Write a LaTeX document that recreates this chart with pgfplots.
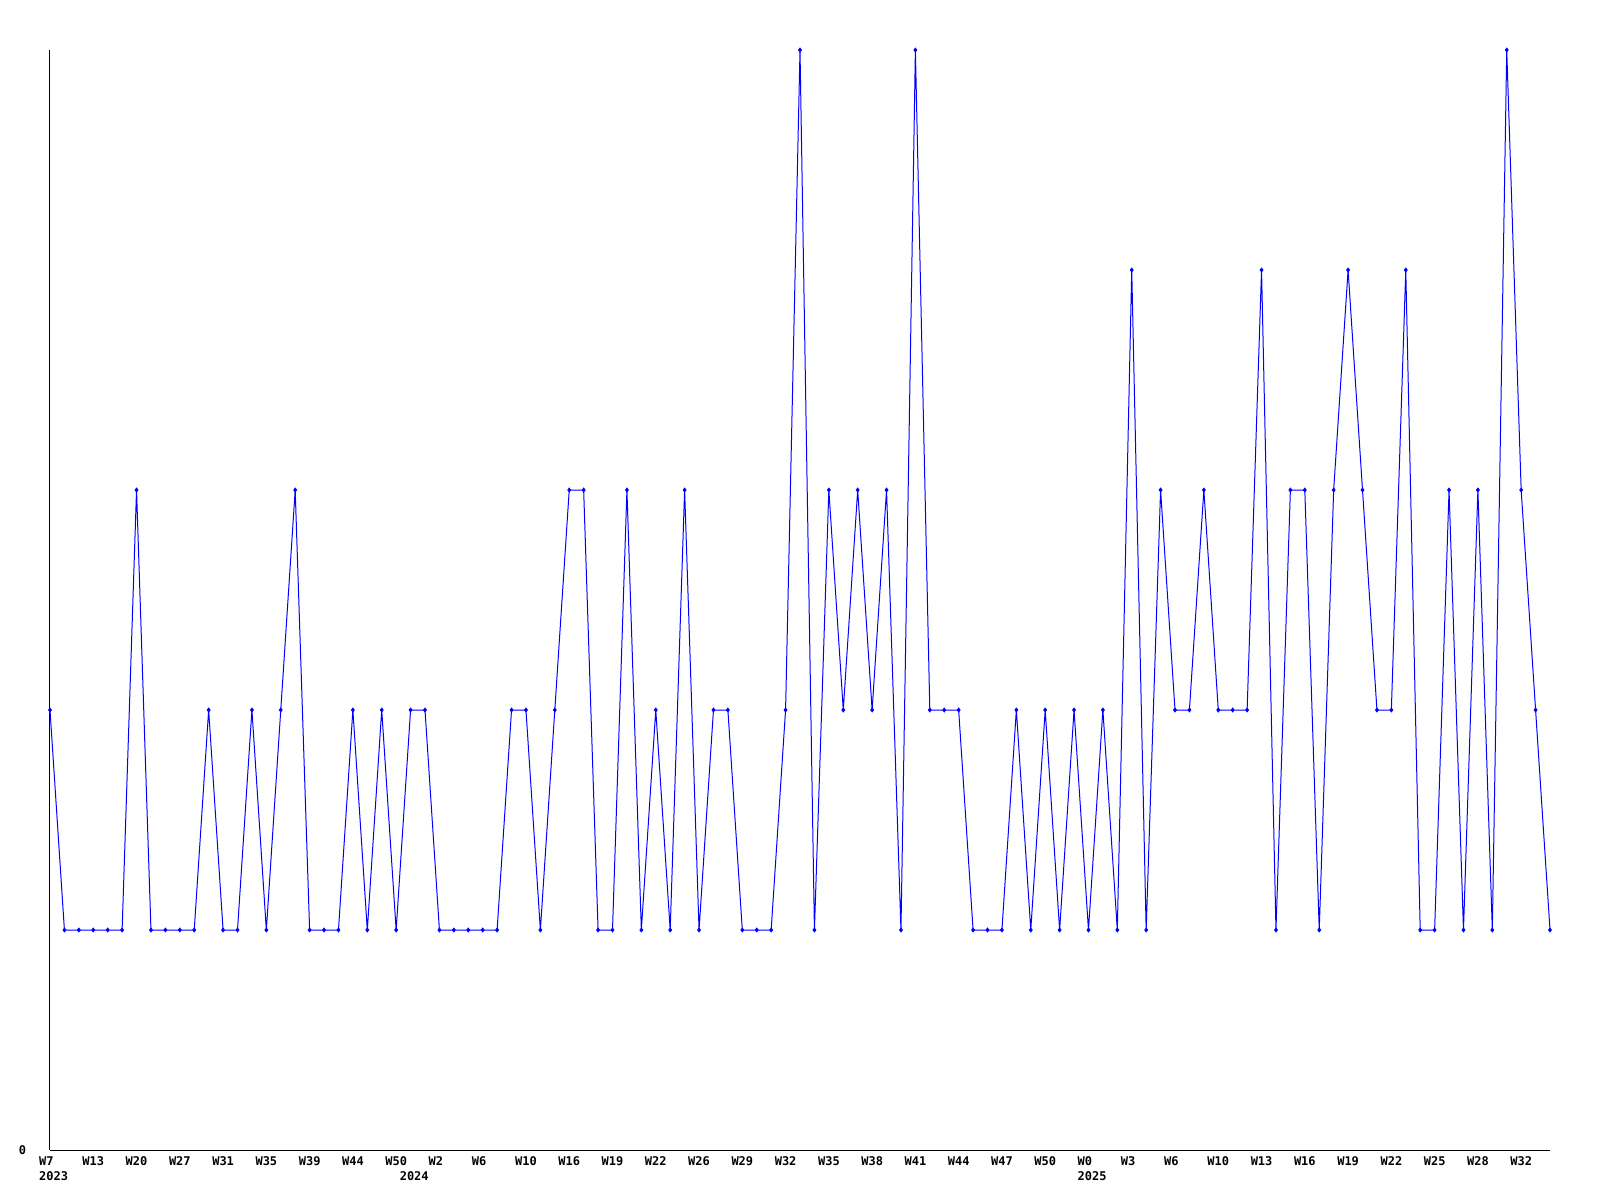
\documentclass[border=0pt]{standalone}
\usepackage{fontspec}
\setmonofont{DejaVu Sans Mono}
\usepackage{pgfplots}
\pgfplotsset{compat=1.18}
\usepackage{pgfplotstable}
\pgfplotstableread{
x y
0 2
1 1
2 1
3 1
4 1
5 1
6 3
7 1
8 1
9 1
10 1
11 2
12 1
13 1
14 2
15 1
16 2
17 3
18 1
19 1
20 1
21 2
22 1
23 2
24 1
25 2
26 2
27 1
28 1
29 1
30 1
31 1
32 2
33 2
34 1
35 2
36 3
37 3
38 1
39 1
40 3
41 1
42 2
43 1
44 3
45 1
46 2
47 2
48 1
49 1
50 1
51 2
52 5
53 1
54 3
55 2
56 3
57 2
58 3
59 1
60 5
61 2
62 2
63 2
64 1
65 1
66 1
67 2
68 1
69 2
70 1
71 2
72 1
73 2
74 1
75 4
76 1
77 3
78 2
79 2
80 3
81 2
82 2
83 2
84 4
85 1
86 3
87 3
88 1
89 3
90 4
91 3
92 2
93 2
94 4
95 1
96 1
97 3
98 1
99 3
100 1
101 5
102 3
103 2
104 1
}\datatable
\begin{document}
\begin{tikzpicture}
\useasboundingbox (0,0) rectangle (800pt,600pt);
\begin{axis}[
  at={(25pt,25pt)}, anchor=south west,
  scale only axis, width=750pt, height=550pt,
  xmin=0, xmax=104, ymin=0, ymax=5,
  axis x line*=bottom, axis y line*=left,
  axis line style={black, line width=0.5pt},
  major tick length=0pt,
  xtick={0,3,...,102},
  xticklabels={W7, W13, W20, W27, W31, W35, W39, W44, W50, W2, W6, W10, W16, W19, W22, W26, W29, W32, W35, W38, W41, W44, W47, W50, W0, W3, W6, W10, W13, W16, W19, W22, W25, W28, W32},
  xticklabel style={font=\fontsize{6}{7.5}\selectfont\ttfamily\bfseries, anchor=north west, xshift=-5.6pt, yshift=-3pt, inner sep=0pt},
  extra x ticks={0,25,72},
  extra x tick labels={2023,2024,2025},
  extra x tick style={xticklabel style={yshift=-7.65pt}},
  ytick={0}, yticklabels={0},
  yticklabel style={font=\fontsize{6}{7.5}\selectfont\ttfamily\bfseries, anchor=east, inner sep=0pt, xshift=-11.7pt},
  clip=false,
]
\addplot[blue, line width=0.5pt, mark=diamond*, mark size=0.9pt, mark options={fill=blue, draw=blue}] table[x=x, y=y] {\datatable};
\end{axis}
\end{tikzpicture}
\end{document}
